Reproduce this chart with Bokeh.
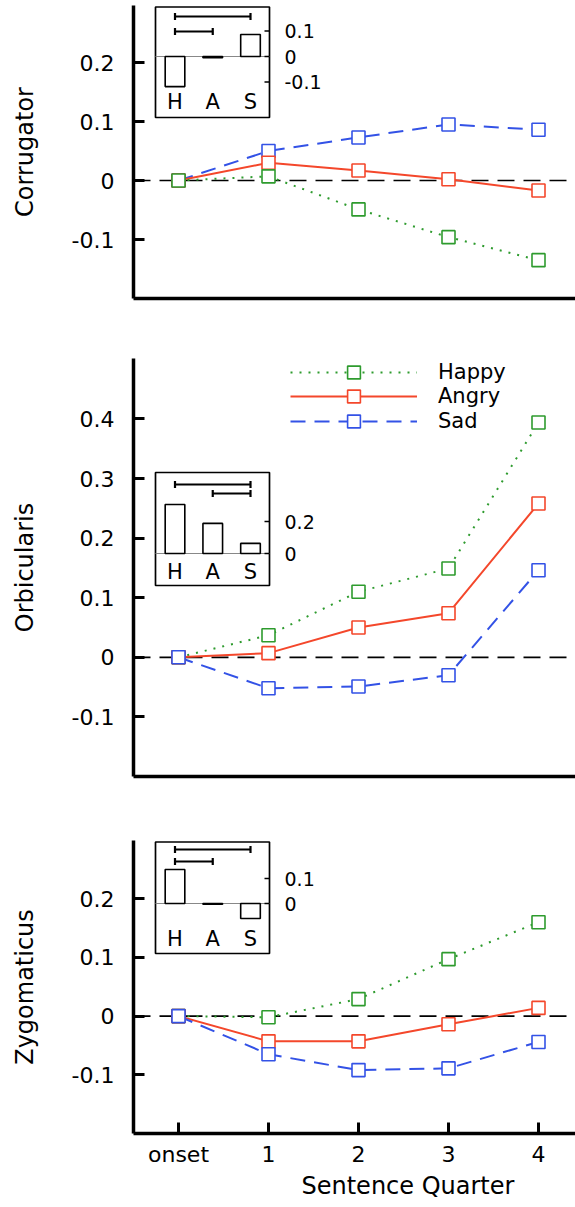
from bokeh.plotting import figure
from bokeh.models import Range1d, FixedTicker, Span, Legend, LegendItem, Title
from bokeh.layouts import column
from bokeh.embed import file_html
from bokeh.resources import INLINE
from bokeh.core.properties import value

# ---------------- data ----------------
quarters = [0, 1, 2, 3, 4]
quarter_labels = ["onset", "1", "2", "3", "4"]
emotions = ["Happy", "Angry", "Sad"]
inset_pos = [0, 1, 2]
inset_cats = ["H", "A", "S"]

corr_happy = [0, 0.007, -0.049, -0.096, -0.135]
corr_angry = [0, 0.030, 0.017, 0.002, -0.017]
corr_sad = [0, 0.050, 0.073, 0.095, 0.086]
corr_inset = [-0.118, -0.005, 0.086]

orb_happy = [0, 0.037, 0.110, 0.149, 0.394]
orb_angry = [0, 0.007, 0.050, 0.074, 0.258]
orb_sad = [0, -0.052, -0.049, -0.030, 0.146]
orb_inset = [0.306, 0.188, 0.063]

zyg_happy = [0, -0.002, 0.029, 0.097, 0.160]
zyg_angry = [0, -0.043, -0.043, -0.014, 0.014]
zyg_sad = [0, -0.065, -0.092, -0.089, -0.044]
zyg_inset = [0.136, -0.003, -0.060]

corr_ticks = [-0.1, 0, 0.1, 0.2]
corr_tick_labels = ["-0.1", "0", "0.1", "0.2"]
orb_ticks = [-0.1, 0, 0.1, 0.2, 0.3, 0.4]
orb_tick_labels = ["-0.1", "0", "0.1", "0.2", "0.3", "0.4"]
zyg_ticks = [-0.1, 0, 0.1, 0.2]
zyg_tick_labels = ["-0.1", "0", "0.1", "0.2"]

corr_inset_ticks = [-0.1, 0, 0.1]
corr_inset_tick_labels = ["-0.1", "0", "0.1"]
orb_inset_ticks = [0, 0.2]
orb_inset_tick_labels = ["0", "0.2"]
zyg_inset_ticks = [0, 0.1]
zyg_inset_tick_labels = ["0", "0.1"]

corr_brackets = [(0, 2), (0, 1)]
orb_brackets = [(0, 2), (1, 2)]
zyg_brackets = [(0, 2), (0, 1)]

# ---------------- styling ----------------
FONT = "DejaVu Sans"
STY = {
    "Happy": dict(color="#2e9b2e", dash="2 7"),
    "Angry": dict(color="#f4472b", dash="solid"),
    "Sad": dict(color="#3352e6", dash="15 9"),
}
X_PXU = 90.0
FRAME_W = 442
LEFT = 133
X0 = -0.5
X1 = X0 + FRAME_W / X_PXU
INS_X_PXU = 37.75
INS_X_OFF = 41.5


def ins_x(px):
    return (px - INS_X_OFF) / INS_X_PXU


def build(series, ylabel, yticks, ytick_labels, inset_vals, inset_ticks,
          inset_tick_labels, brackets, g, order, show_x=False, legend_rows=None):
    frame_h = g["frame_h"]
    height = g["top"] + frame_h + g["bottom"]
    y_end = -0.2 + frame_h / g["pxu"]
    p = figure(width=LEFT + FRAME_W, height=height,
               x_range=Range1d(X0, X1), y_range=Range1d(-0.2, y_end),
               output_backend="svg", toolbar_location=None,
               min_border_left=LEFT, min_border_right=0,
               min_border_top=g["top"], min_border_bottom=g["bottom"])
    p.outline_line_color = None
    p.grid.visible = False
    p.background_fill_color = "white"
    p.border_fill_color = "white"

    iz, ipxu = g["ins_zero"], g["ins_pxu"]
    p.extra_y_ranges = {"iy": Range1d(-(frame_h - iz) / ipxu, iz / ipxu)}
    p.extra_x_ranges = {"ix": Range1d(ins_x(0), ins_x(FRAME_W))}

    def ins_y(px):
        return (iz - px) / ipxu

    kw = dict(x_range_name="ix", y_range_name="iy")

    # zero reference line
    p.add_layout(Span(location=0, dimension="width", line_color="black",
                      line_width=1.7, line_dash="17 9", level="underlay"))

    # inset
    bl, br = ins_x(22), ins_x(136)
    p.quad(left=bl, right=br, top=ins_y(g["box_top"]), bottom=ins_y(g["box_bottom"]),
           fill_color="white", line_color="black", line_width=1.7, **kw)
    p.segment(x0=[bl], x1=[br], y0=[0], y1=[0], line_color="#888888", line_width=1, **kw)
    p.vbar(x=inset_pos, top=inset_vals, bottom=0, width=0.52, fill_color="white",
           line_color="black", line_width=1.6, **kw)
    p.segment(x0=[br] * len(inset_ticks), x1=[ins_x(131)] * len(inset_ticks),
              y0=inset_ticks, y1=inset_ticks, line_color="black", line_width=1.5, **kw)
    p.text(x=[ins_x(151)] * len(inset_ticks), y=inset_ticks, text=inset_tick_labels,
           text_font=value(FONT), text_font_size="19px", text_baseline="middle",
           text_align="left", text_color="black", **kw)
    p.text(x=inset_pos, y=[ins_y(g["letters"])] * 3, text=inset_cats,
           text_font=value(FONT), text_font_size="21px", text_baseline="middle",
           text_align="center", text_color="black", **kw)
    for (a, b), lv in zip(brackets, g["brackets"]):
        p.segment(x0=[a, a, b], x1=[b, a, b],
                  y0=[ins_y(lv), ins_y(lv - 3.5), ins_y(lv - 3.5)],
                  y1=[ins_y(lv), ins_y(lv + 3.5), ins_y(lv + 3.5)],
                  line_color="black", line_width=2.2, **kw)

    # main series
    lines, marks = {}, {}
    for name in order:
        s = STY[name]
        lines[name] = p.line(quarters, series[name], line_color=s["color"],
                             line_width=2, line_dash=s["dash"])
    for name in order:
        s = STY[name]
        marks[name] = p.scatter(quarters, series[name], marker="square", size=13,
                                fill_color="white", line_color=s["color"], line_width=1.6)

    # axes
    ya = p.yaxis[0]
    ya.ticker = FixedTicker(ticks=yticks)
    ya.major_label_overrides = dict(zip(yticks, ytick_labels))
    ya.axis_label = ylabel
    ya.axis_label_text_font = FONT
    ya.axis_label_text_font_size = "24px"
    ya.axis_label_text_font_style = "normal"
    ya.axis_label_text_color = "black"
    ya.axis_label_standoff = 30
    ya.major_label_text_font = FONT
    ya.major_label_text_font_size = "22px"
    ya.major_label_standoff = 19

    xa = p.xaxis[0]
    if show_x:
        xa.ticker = FixedTicker(ticks=quarters)
        xa.major_label_overrides = dict(zip(quarters, quarter_labels))
        xa.major_label_text_font = FONT
        xa.major_label_text_font_size = "22px"
        xa.major_label_standoff = 8
    else:
        xa.ticker = FixedTicker(ticks=[])
    for ax in (ya, xa):
        ax.axis_line_width = 3.5
        ax.axis_line_color = "black"
        ax.major_tick_line_width = 3
        ax.major_tick_in = 11
        ax.major_tick_out = 0
        ax.minor_tick_line_color = None
        ax.major_label_text_color = "black"

    if legend_rows:
        for n, ypos in zip(emotions, legend_rows):
            lg = Legend(items=[LegendItem(label=n, renderers=[lines[n], marks[n]])],
                        location=(157, ypos), glyph_width=127, glyph_height=32,
                        label_height=24, spacing=0, label_standoff=21, padding=0, margin=0,
                        border_line_color=None, background_fill_alpha=0,
                        label_text_font=FONT, label_text_font_size="21px",
                        label_text_color="black")
            p.add_layout(lg)
    return p


geo1 = dict(top=5, frame_h=293, bottom=50, pxu=590, ins_zero=51, ins_pxu=255,
            box_top=1.5, box_bottom=112, brackets=[11, 26], letters=96)
geo2 = dict(top=10, frame_h=418, bottom=32, pxu=596, ins_zero=195, ins_pxu=160,
            box_top=114, box_bottom=227, brackets=[126, 135], letters=213)
geo3 = dict(top=32, frame_h=293, bottom=74, pxu=587, ins_zero=63, ins_pxu=250,
            box_top=1.5, box_bottom=113, brackets=[9, 21], letters=98)

p1 = build({"Happy": corr_happy, "Angry": corr_angry, "Sad": corr_sad}, "Corrugator",
           corr_ticks, corr_tick_labels, corr_inset, corr_inset_ticks,
           corr_inset_tick_labels, corr_brackets, geo1, ["Sad", "Angry", "Happy"])
p2 = build({"Happy": orb_happy, "Angry": orb_angry, "Sad": orb_sad}, "Orbicularis",
           orb_ticks, orb_tick_labels, orb_inset, orb_inset_ticks,
           orb_inset_tick_labels, orb_brackets, geo2, ["Happy", "Angry", "Sad"],
           legend_rows=[388, 364, 339])
p3 = build({"Happy": zyg_happy, "Angry": zyg_angry, "Sad": zyg_sad}, "Zygomaticus",
           zyg_ticks, zyg_tick_labels, zyg_inset, zyg_inset_ticks,
           zyg_inset_tick_labels, zyg_brackets, geo3, ["Happy", "Angry", "Sad"], show_x=True)
p3.add_layout(Title(text="Sentence Quarter", align="left", offset=168, standoff=0,
                    text_font=FONT, text_font_size="24px", text_font_style="normal",
                    text_color="black"), "below")

layout = column(p1, p2, p3, spacing=0)
open("out.html", "w").write(file_html(layout, INLINE))
